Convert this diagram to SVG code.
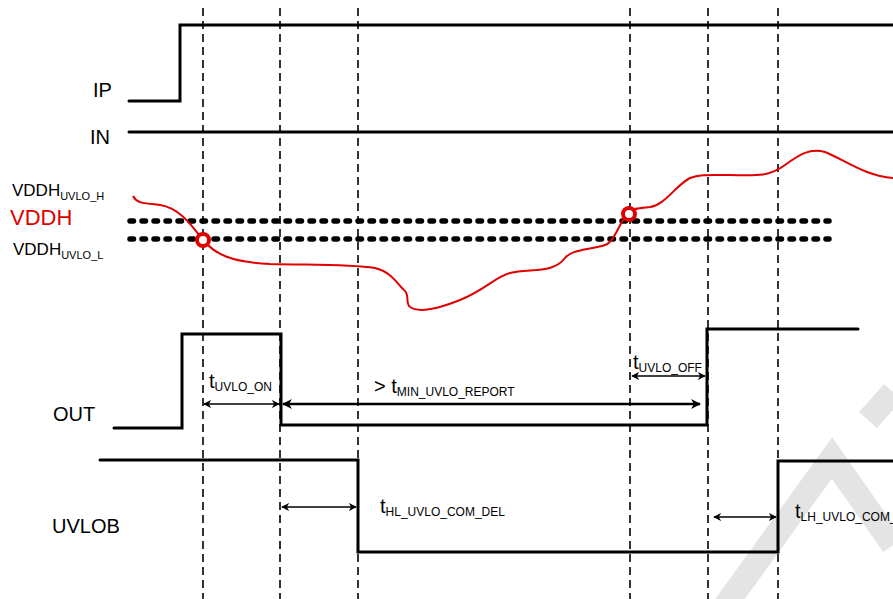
<svg xmlns="http://www.w3.org/2000/svg" width="893" height="599" viewBox="0 0 893 599">
<style>
.sig{fill:none;stroke:#000;stroke-width:3;stroke-linecap:round;stroke-linejoin:miter}
.vd{stroke:#000;stroke-width:1.6;stroke-dasharray:8 5}
.dot{stroke:#000;stroke-width:5.5;stroke-dasharray:3.5 8.5;stroke-linecap:round}
.arr{stroke:#000;stroke-width:1.5;marker-start:url(#ah);marker-end:url(#ah)}
.lbl{font-family:"Liberation Sans",Arial,sans-serif;font-size:20px;fill:#000}
.t{font-family:"Liberation Sans",Arial,sans-serif;font-size:20px;fill:#000}
.sub{font-size:12px}
</style>
<defs>
<marker id="ah" viewBox="0 0 10 10" refX="9" refY="5" markerWidth="8" markerHeight="8" orient="auto-start-reverse" markerUnits="userSpaceOnUse">
<path d="M0,0 L10,5 L0,10 L3,5 Z" fill="#000"/>
</marker>
<marker id="ah2" viewBox="0 0 10 10" refX="9" refY="5" markerWidth="10" markerHeight="10" orient="auto-start-reverse" markerUnits="userSpaceOnUse">
<path d="M0,0 L10,5 L0,10 L3,5 Z" fill="#000"/>
</marker>
</defs>
<rect width="893" height="599" fill="#fff"/>
<g id="watermark" fill="none" stroke="#e4e4e4" stroke-width="24">
<polyline points="722,610 832,458 893,545"/>
<polyline points="868,420 893,392"/>
</g>
<g id="guides">
<line class="vd" x1="203" y1="8" x2="203" y2="599"/>
<line class="vd" x1="280" y1="8" x2="280" y2="599"/>
<line class="vd" x1="358" y1="8" x2="358" y2="599"/>
<line class="vd" x1="630" y1="8" x2="630" y2="599"/>
<line class="vd" x1="708" y1="8" x2="708" y2="599"/>
<line class="vd" x1="778" y1="8" x2="778" y2="599"/>
</g>
<g id="thresholds">
<line class="dot" x1="130" y1="221" x2="829" y2="221"/>
<line class="dot" x1="130" y1="239" x2="829" y2="239"/>
</g>
<g id="IP">
<polyline class="sig" points="129,101 180,101 180,25 893,25"/>
<text class="lbl" x="93" y="97">IP</text>
</g>
<g id="IN">
<line class="sig" x1="129" y1="132" x2="893" y2="132"/>
<text class="lbl" x="90" y="144">IN</text>
</g>
<g id="VDDH">
<path fill="none" stroke="#e00000" stroke-width="2" d="M133,196 C137,204 145,203 160,205 C180,208 192,226 203,240 C215,254 230,262 270,264 C320,265 350,264 375,268 C392,272 398,285 404,290 C410,294 405,303 410,307 C420,314 440,308 460,300 C485,290 495,277 510,273 C530,268 553,274 565,258 C572,249 590,250 605,245 C615,242 620,220 629,212 C633,208 640,208 650,207 C665,205 675,186 690,178 C700,174 710,175 730,175 C760,176 770,176 785,165 C800,154 810,148 825,152 C845,160 865,176 893,178"/>
<circle cx="203" cy="240" r="6" fill="#fff" stroke="#e00000" stroke-width="4"/>
<circle cx="629" cy="214" r="6" fill="#fff" stroke="#e00000" stroke-width="4"/>
<text class="lbl" x="12" y="196" style="font-size:17px">VDDH<tspan class="sub" dy="4" style="font-size:11px">UVLO_H</tspan></text>
<text class="lbl" x="10" y="225" style="font-size:22px;fill:#e00000">VDDH</text>
<text class="lbl" x="13" y="255" style="font-size:17px">VDDH<tspan class="sub" dy="4" style="font-size:11px">UVLO_L</tspan></text>
</g>
<g id="OUT">
<polyline class="sig" points="114,428 182,428 182,334 281,334 281,425 707,425 707,329 858,329"/>
<text class="lbl" x="53" y="421">OUT</text>
</g>
<g id="UVLOB">
<polyline class="sig" points="100,460 358,460 358,552 778,552 778,461 893,461"/>
<text class="lbl" x="52" y="533">UVLOB</text>
</g>
<g id="connectors">
<line class="arr" x1="204" y1="404" x2="279" y2="404"/>
<line x1="283" y1="404" x2="700" y2="404" stroke="#000" stroke-width="2.5" marker-start="url(#ah2)" marker-end="url(#ah2)"/>
<line class="arr" x1="632" y1="376" x2="705" y2="376"/>
<line class="arr" x1="282" y1="507" x2="356" y2="507"/>
<line class="arr" x1="714" y1="517" x2="776" y2="517"/>
</g>
<g id="labels">
<text class="t" x="209" y="388">t<tspan class="sub" dy="3">UVLO_ON</tspan></text>
<text class="t" x="374" y="393">&gt; t<tspan class="sub" dy="3">MIN_UVLO_REPORT</tspan></text>
<text class="t" x="633" y="369">t<tspan class="sub" dy="3">UVLO_OFF</tspan></text>
<text class="t" x="380" y="513">t<tspan class="sub" dy="3">HL_UVLO_COM_DEL</tspan></text>
<text class="t" x="795" y="518">t<tspan class="sub" dy="3">LH_UVLO_COM_DEL</tspan></text>
</g>
</svg>
